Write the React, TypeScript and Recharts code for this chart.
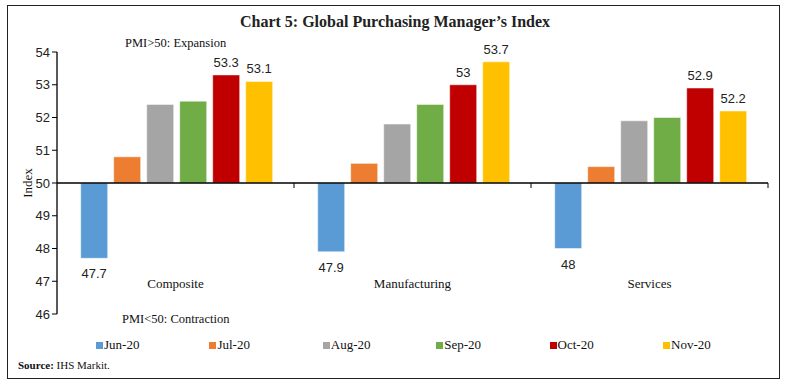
import React from 'react';
import { BarChart, Bar, XAxis, YAxis, Legend, LabelList, ReferenceLine } from 'recharts';

const categories = ['Composite', 'Manufacturing', 'Services'];
const months = ['Jun-20', 'Jul-20', 'Aug-20', 'Sep-20', 'Oct-20', 'Nov-20'];
const jun20 = [47.7, 47.9, 48];
const jul20 = [50.8, 50.6, 50.5];
const aug20 = [52.4, 51.8, 51.9];
const sep20 = [52.5, 52.4, 52.0];
const oct20 = [53.3, 53, 52.9];
const nov20 = [53.1, 53.7, 52.2];
const yTicks = [46, 47, 48, 49, 50, 51, 52, 53, 54];
const labelled = ['Jun-20', 'Oct-20', 'Nov-20'];

const colors = ['#5B9BD5', '#ED7D31', '#A5A5A5', '#70AD47', '#C00000', '#FFC000'];
const serif = '"Liberation Serif", "DejaVu Serif", serif';
const sans = '"Liberation Sans", Arial, sans-serif';
const BASE = 50;

const seriesValues = [jun20, jul20, aug20, sep20, oct20, nov20];
const chartData = categories.map((c, i) => {
  const row: any = { name: c };
  months.forEach((m, j) => {
    row[m] = seriesValues[j][i];
  });
  return row;
});

function BarLabel(props: any) {
  const { x, y, width, height, value } = props;
  const top = Math.min(y, y + height);
  const bot = Math.max(y, y + height);
  const cx = x + width / 2;
  const below = value < BASE;
  return (
    <text x={cx} y={below ? bot + 20 : top - 8} textAnchor="middle" fontSize={13}
      fontFamily={sans} fill="#222">
      {value}
    </text>
  );
}

function CatTick(props: any) {
  const { x, y, payload } = props;
  return (
    <text x={x} y={y - 34} textAnchor="middle" fontSize={13} fontFamily={serif} fill="#111">
      {payload?.value}
    </text>
  );
}

function BaseLine(props: any) {
  const { x1, x2, y1 } = props;
  const step = (x2 - x1) / categories.length;
  return (
    <g>
      <line x1={x1} x2={x2} y1={y1} y2={y1} stroke="#000" strokeWidth={1.3} />
      {categories.map((_, i) => (
        <line key={i} x1={x1 + step * (i + 1)} x2={x1 + step * (i + 1)} y1={y1} y2={y1 + 5}
          stroke="#000" strokeWidth={1} />
      ))}
    </g>
  );
}

function LegendBox() {
  return (
    <div style={{ position: 'relative', height: 16 }}>
      {months.map((m, i) => (
        <div key={m} style={{ position: 'absolute', left: 96 + i * 113.4, top: 0, display: 'flex',
          alignItems: 'center', fontFamily: serif, fontSize: 13, color: '#111' }}>
          <span style={{ display: 'inline-block', width: 7, height: 7, background: colors[i], marginRight: 1 }} />
          {m}
        </div>
      ))}
    </div>
  );
}

export default function App() {
  return (
    <div style={{ position: 'absolute', left: 0, top: 0, width: 788, height: 386, background: '#fff' }}>
      <div style={{ position: 'absolute', left: 7, top: 5, width: 773, height: 374,
        border: '1px solid #222', boxSizing: 'border-box' }} />
      <div style={{ position: 'absolute', left: 0, top: 13, width: 790, textAlign: 'center',
        fontFamily: serif, fontWeight: 'bold', fontSize: 16, color: '#222' }}>
        Chart 5: Global Purchasing Manager’s Index
      </div>
      <div style={{ position: 'absolute', left: 125, top: 36, fontFamily: serif, fontSize: 12.5, color: '#111' }}>
        PMI&gt;50: Expansion
      </div>
      <div style={{ position: 'absolute', left: 122, top: 312, fontFamily: serif, fontSize: 12.5, color: '#111' }}>
        PMI&lt;50: Contraction
      </div>
      <div style={{ position: 'absolute', left: 18, top: 359, fontFamily: serif, fontSize: 11, color: '#111' }}>
        <b>Source:</b> IHS Markit.
      </div>
      <div style={{ position: 'absolute', left: 0, top: 0 }}>
        <BarChart width={788} height={386} data={chartData}
          margin={{ top: 52, right: 20, bottom: 26, left: 32 }}
          barCategoryGap="10%" barGap={6}>
          <XAxis dataKey="name" axisLine={false} tickLine={false} height={30} tick={<CatTick />} />
          <YAxis domain={[46, 54]} ticks={yTicks} width={25} allowDataOverflow
            axisLine={{ stroke: '#000', strokeWidth: 1.3 }} tickLine={{ stroke: '#000' }} tickSize={5}
            tick={{ fontSize: 13, fontFamily: sans, fill: '#222' }}
            label={{ value: 'Index', angle: -90, position: 'insideLeft', offset: -5,
              style: { textAnchor: 'middle', fontSize: 13, fontFamily: serif, fill: '#111' } }} />
          {months.map((m, i) => (
            <Bar key={m} dataKey={(d: any) => [BASE, d[m]]} name={m} fill={colors[i]}
              stroke="#fff" strokeWidth={0.5} isAnimationActive={false}>
              {labelled.includes(m) && <LabelList dataKey={m} content={<BarLabel />} />}
            </Bar>
          ))}
          <ReferenceLine y={BASE} shape={<BaseLine />} />
          <Legend content={<LegendBox />} wrapperStyle={{ position: 'absolute', top: 337, left: 0, width: 788 }} />
        </BarChart>
      </div>
    </div>
  );
}
